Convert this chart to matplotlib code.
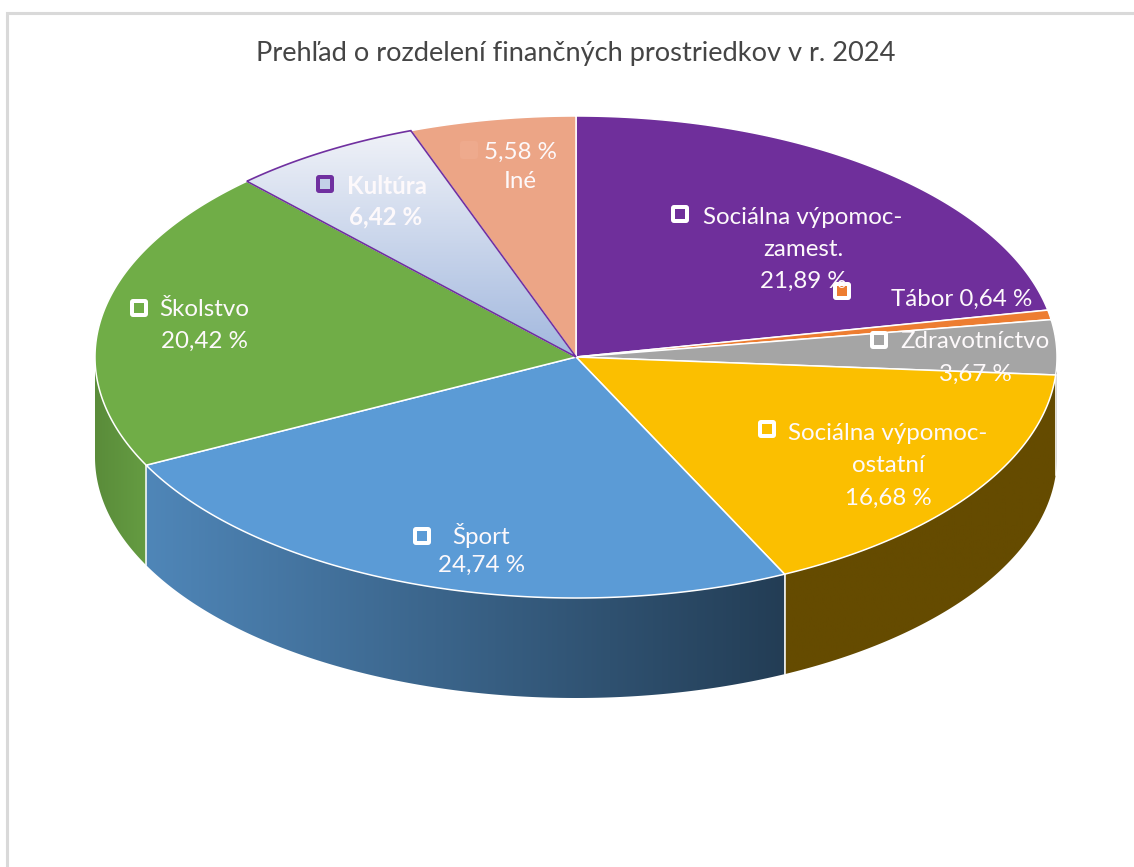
import matplotlib
matplotlib.use("Agg")
import matplotlib.pyplot as plt
import numpy as np
from matplotlib.colors import LinearSegmentedColormap
from matplotlib.patches import FancyBboxPatch, Polygon, Rectangle

nazwy = ["Sociálna výpomoc-zamest.", "Tábor", "Zdravotníctvo", "Sociálna výpomoc-ostatní",
         "Šport", "Školstvo", "Kultúra", "Iné"]
hodnoty = [21.89, 0.64, 3.67, 16.68, 24.74, 20.42, 6.42, 5.58]

# farby vrchu a boku kazdeho kusa
vrch = ["#6f2f9b", "#ed7d31", "#a5a5a5", "#fbbf00", "#5b9bd6", "#70ad47", None, "#eca586"]
bok_od = ["#6f2f9b", "#ed7d31", "#5f5f5f", "#654b00", "#4f86b8", "#5a8c3a", None, None]
bok_do = ["#6f2f9b", "#ed7d31", "#5f5f5f", "#654b00", "#233d55", "#659c42", None, None]

CX, CY, RX, RY = 576, 357, 481, 241
HLBKA = 100

plt.rcParams["font.family"] = ["Lato", "DejaVu Sans"]
fig = plt.figure(figsize=(11.34, 8.67), dpi=100)
ax = fig.add_axes([0, 0, 1, 1])
ax.axis("off")


def bod(uhol):
    # uhol v stupnoch, 0 hore, v smere hodinovych ruciciek
    u = np.radians(uhol)
    return CX + RX * np.sin(u), CY - RY * np.cos(u)


def prechod(poly, c1, c2, vodorovne=True):
    # gradient orezany polygonom
    cm = LinearSegmentedColormap.from_list("x", [c1, c2])
    xy = poly.get_xy()
    g = np.linspace(0, 1, 256)
    g = g.reshape(1, -1) if vodorovne else g.reshape(-1, 1)
    im = ax.imshow(g, cmap=cm, aspect="auto", zorder=poly.get_zorder(), origin="upper",
                   extent=[xy[:, 0].min(), xy[:, 0].max(), xy[:, 1].max(), xy[:, 1].min()])
    im.set_clip_path(poly)


hranice = np.cumsum([0] + hodnoty) / sum(hodnoty) * 360

# ram grafu
ax.add_patch(Rectangle((7, 13), 1200, 1000, fc="white", ec="#d9d9d9", lw=2.2, zorder=0))

# boky
for i in range(len(hodnoty)):
    a = max(hranice[i], 90)
    b = min(hranice[i + 1], 270)
    if a >= b or bok_od[i] is None:
        continue
    t = np.linspace(a, b, 200)
    x, y = bod(t)
    xy = np.r_[np.c_[x, y], np.c_[x, y + HLBKA][::-1]]
    p = Polygon(xy, closed=True, fc="none", ec="none", zorder=1)
    ax.add_patch(p)
    prechod(p, bok_od[i], bok_do[i])
    if hranice[i] >= 90:
        ax.plot([x[0], x[0]], [y[0], y[0] + HLBKA], color="white", lw=1.1, zorder=2)

# vrch kolaca
for i in range(len(hodnoty)):
    t = np.linspace(hranice[i], hranice[i + 1], 200)
    x, y = bod(t)
    xy = np.r_[[[CX, CY]], np.c_[x, y]]
    if nazwy[i] == "Kultúra":
        p = Polygon(xy, closed=True, fc="none", ec="none", zorder=3)
        ax.add_patch(p)
        prechod(p, "#f0f2f8", "#a2b8de", vodorovne=False)
    else:
        ax.add_patch(Polygon(xy, closed=True, fc=vrch[i], ec="white", lw=1.1, zorder=3, joinstyle="round"))
# fialovy okraj Kultury navrch
i = nazwy.index("Kultúra")
t = np.linspace(hranice[i], hranice[i + 1], 200)
x, y = bod(t)
ax.add_patch(Polygon(np.r_[[[CX, CY]], np.c_[x, y]], closed=True, fc="none", ec="#7030a0", lw=1.2, zorder=4))

# popisky
VEL = 17.4
popisky = [
    (803, 218, "Sociálna výpomoc-", "normal"), (803, 250, "zamest.", "normal"), (803, 281, "21,89 %", "normal"),
    (962, 299, "Tábor 0,64 %", "normal"),
    (975, 342, "Zdravotníctvo", "normal"), (975, 374, "3,67 %", "normal"),
    (888, 433, "Sociálna výpomoc-", "normal"), (888, 466, "ostatní", "normal"), (888, 498, "16,68 %", "normal"),
    (481, 536, "Šport", "normal"), (481, 565, "24,74 %", "normal"),
    (204, 309, "Školstvo", "normal"), (204, 341, "20,42 %", "normal"),
    (387, 186, "Kultúra", "bold"), (386, 217, "6,42 %", "bold"),
    (520, 152, "5,58 %", "normal"), (520, 181, "Iné", "normal"),
]
for x, y, s, w in popisky:
    ax.text(x, y, s, color="#fdf9fb", fontsize=VEL, fontweight=w, ha="center", va="center", zorder=6)

# male stvorce legendy pri popiskoch
kluce = [(680, 214, "white", "#6f2f9b"), (842, 291, "white", "#ed7d31"), (879, 340, "white", "#a5a5a5"),
         (767, 429, "white", "#fbbf00"), (422, 536, "white", "#5b9bd6"), (139, 308, "white", "#70ad47"),
         (325, 184, "#7030a0", "#c3d0e8"), (469, 150, "#eeaa8d", "#eeaa8d")]
for x, y, kraj, vypln in kluce:
    ax.add_patch(FancyBboxPatch((x - 9, y - 9), 18, 18, boxstyle="round,pad=0,rounding_size=3",
                                fc=kraj, ec="none", zorder=5))
    ax.add_patch(Rectangle((x - 5, y - 5), 10, 10, fc=vypln, ec="none", zorder=5))

ax.text(576, 53, "Prehľad o rozdelení finančných prostriedkov v r. 2024", color="#454545",
        fontsize=19.6, ha="center", va="center")

ax.set_xlim(0, 1134)
ax.set_ylim(867, 0)
fig.savefig("out.png", dpi=100)
